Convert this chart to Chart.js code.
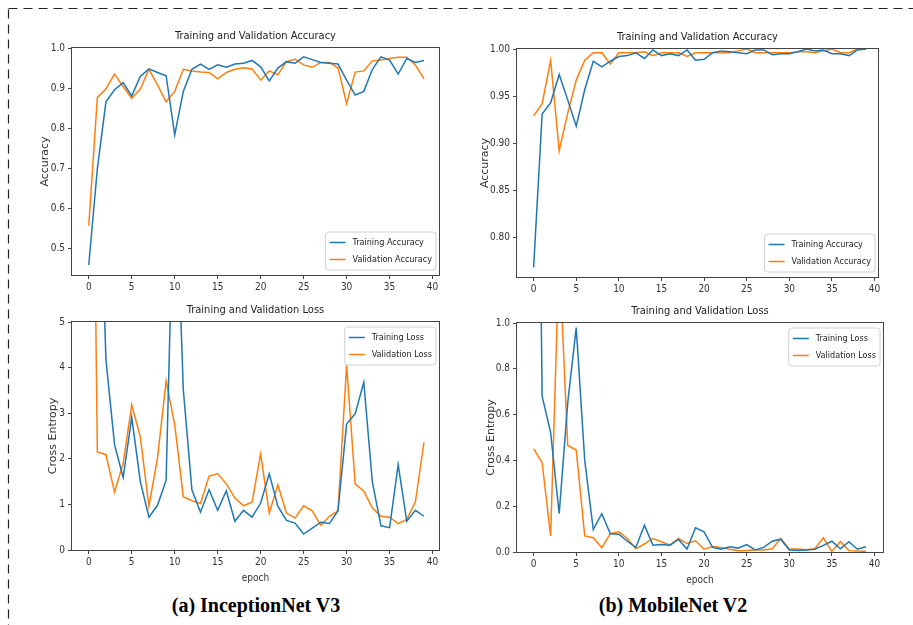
<!DOCTYPE html>
<html>
<head>
<meta charset="utf-8">
<script src="https://cdn.jsdelivr.net/npm/chart.js@4/dist/chart.umd.min.js"></script>
<style>
html,body{margin:0;padding:0;background:#fff;}
body{width:913px;height:625px;position:relative;overflow:hidden;}
canvas{position:absolute;}
svg{position:absolute;left:0;top:0;}
.cap{position:absolute;font-family:'Liberation Serif','Times New Roman',serif;font-weight:bold;font-size:20px;line-height:22px;color:#000;white-space:nowrap;transform:translateX(-50%);}
</style>
</head>
<body>
<svg width="913" height="625"><rect x="8.5" y="8.5" width="1000" height="1000" fill="none" stroke="#222" stroke-width="1.2" stroke-dasharray="9 6"/></svg>
<div class="cap" style="left:256px;top:594px">(a) InceptionNet V3</div>
<div class="cap" style="left:673px;top:594px">(b) MobileNet V2</div>
<script>
// ---------- data ----------
const epochs = [0,1,2,3,4,5,6,7,8,9,10,11,12,13,14,15,16,17,18,19,20,21,22,23,24,25,26,27,28,29,30,31,32,33,34,35,36,37,38,39];
const xTickLabels = ['0','5','10','15','20','25','30','35','40'];

// (a) InceptionNet V3
const incTrainAcc = [0.46,0.70,0.866,0.896,0.914,0.881,0.929,0.948,0.939,0.931,0.784,0.892,0.947,0.960,0.947,0.958,0.952,0.960,0.962,0.969,0.953,0.918,0.950,0.966,0.962,0.978,0.971,0.964,0.962,0.960,0.920,0.883,0.892,0.947,0.978,0.970,0.935,0.974,0.964,0.969];
const incValAcc = [0.558,0.877,0.898,0.935,0.904,0.875,0.898,0.947,0.908,0.866,0.892,0.947,0.943,0.940,0.939,0.923,0.939,0.947,0.951,0.948,0.920,0.943,0.933,0.966,0.972,0.958,0.952,0.964,0.964,0.950,0.862,0.940,0.943,0.968,0.970,0.974,0.977,0.977,0.958,0.923];
const incTrainLoss = [12.0,10.0,4.17,2.31,1.59,2.91,1.50,0.72,0.98,1.53,9.0,3.52,1.32,0.83,1.32,0.87,1.30,0.63,0.87,0.72,1.03,1.67,0.96,0.65,0.59,0.35,0.48,0.61,0.58,0.86,2.76,2.99,3.68,1.48,0.53,0.49,1.87,0.63,0.87,0.74];
const incValLoss = [18.0,2.15,2.09,1.27,1.90,3.18,2.48,0.96,2.02,3.71,2.75,1.17,1.08,1.02,1.62,1.67,1.45,1.14,0.97,1.05,2.11,0.81,1.43,0.81,0.70,0.97,0.86,0.54,0.74,0.86,4.05,1.45,1.29,0.92,0.74,0.72,0.58,0.67,1.05,2.36];

// (b) MobileNet V2
const mobTrainAcc = [0.768,0.931,0.943,0.973,0.946,0.918,0.957,0.987,0.981,0.987,0.992,0.993,0.996,0.990,0.999,0.993,0.995,0.993,0.999,0.988,0.989,0.996,0.998,0.997,0.996,0.995,0.999,0.999,0.994,0.995,0.995,0.997,1.000,0.998,0.999,0.995,0.995,0.993,0.999,1.000];
const mobValAcc = [0.929,0.942,0.988,0.892,0.932,0.967,0.988,0.996,0.996,0.984,0.996,0.996,0.996,0.997,0.993,0.996,0.996,0.996,0.992,0.996,0.996,0.996,0.996,0.996,0.998,1.000,0.996,0.996,0.996,0.996,0.996,0.997,0.997,0.996,0.998,1.000,0.996,0.996,1.000,1.000];
const mobTrainLoss = [3.9,0.68,0.52,0.167,0.65,0.98,0.40,0.098,0.167,0.080,0.078,0.047,0.020,0.117,0.030,0.033,0.030,0.055,0.013,0.106,0.088,0.020,0.012,0.023,0.017,0.032,0.009,0.020,0.047,0.056,0.009,0.007,0.009,0.012,0.029,0.047,0.014,0.045,0.012,0.023];
const mobValLoss = [0.45,0.39,0.07,1.31,0.465,0.445,0.070,0.062,0.019,0.080,0.088,0.059,0.014,0.035,0.059,0.045,0.030,0.059,0.037,0.049,0.012,0.024,0.020,0.012,0.006,0.007,0.009,0.009,0.014,0.059,0.013,0.013,0.010,0.014,0.062,0.003,0.045,0.006,0.004,0.003];

const accTicksA = ['0.5','0.6','0.7','0.8','0.9','1.0'];
const accTicksB = ['0.80','0.85','0.90','0.95','1.00'];
const lossTicksA = ['0','1','2','3','4','5'];
const lossTicksB = ['0.0','0.2','0.4','0.6','0.8','1.0'];

// ---------- drawing ----------
const BLUE = '#1f77b4', ORANGE = '#ff7f0e';
const FONT_C = "'DejaVu Sans Condensed', 'DejaVu Sans', sans-serif";
const FONT_N = "'DejaVu Sans', sans-serif";
Chart.defaults.font.family = FONT_C;

const framePlugin = {
  id: 'frame',
  afterDatasetsDraw(chart) {
    const {ctx, chartArea: a} = chart;
    ctx.save();
    ctx.strokeStyle = '#444';
    ctx.lineWidth = 1;
    ctx.strokeRect(a.left - 0.5, a.top - 0.5, a.right - a.left + 1, a.bottom - a.top + 1);
    ctx.restore();
  }
};

const legendPlugin = {
  id: 'mplLegend',
  afterDraw(chart, args, opts) {
    const {ctx, chartArea: a} = chart;
    ctx.save();
    ctx.font = '9px ' + FONT_C;
    const items = chart.data.datasets.map(d => ({text: d.label, color: d.borderColor}));
    const tw = Math.max(...items.map(i => ctx.measureText(i.text).width));
    const w = 4 + 16 + 7 + tw + 4, h = 38;
    const x = a.right - 3 - w;
    const y = opts.loc === 'upper right' ? a.top + 5 : a.bottom - 5 - h;
    ctx.beginPath();
    if (ctx.roundRect) ctx.roundRect(x, y, w, h, 3); else ctx.rect(x, y, w, h);
    ctx.fillStyle = 'rgba(255,255,255,0.85)';
    ctx.fill();
    ctx.strokeStyle = '#d0d0d0';
    ctx.lineWidth = 1;
    ctx.stroke();
    items.forEach((it, i) => {
      const cy = y + 10.5 + i * 17;
      ctx.beginPath();
      ctx.moveTo(x + 4, cy);
      ctx.lineTo(x + 20, cy);
      ctx.strokeStyle = it.color;
      ctx.lineWidth = 1.5;
      ctx.stroke();
      ctx.fillStyle = '#222';
      ctx.textBaseline = 'middle';
      ctx.textAlign = 'left';
      ctx.fillText(it.text, x + 27, cy);
    });
    ctx.restore();
  }
};

function series(vals) { return epochs.map((e, i) => ({x: e, y: vals[i]})); }

function makePanel(s) {
  const cv = document.createElement('canvas');
  cv.width = s.box[2]; cv.height = s.box[3];
  cv.style.left = s.box[0] + 'px'; cv.style.top = s.box[1] + 'px';
  cv.style.width = s.box[2] + 'px'; cv.style.height = s.box[3] + 'px';
  document.body.appendChild(cv);
  const tickGrid = {display: true, drawOnChartArea: false, drawTicks: true, tickLength: 4, color: '#444', lineWidth: 1};
  new Chart(cv.getContext('2d'), {
    type: 'line',
    data: {
      datasets: [
        {label: s.names[0], data: series(s.train), borderColor: BLUE, backgroundColor: BLUE, borderWidth: 1.5, pointRadius: 0, tension: 0, fill: false, clip: 0},
        {label: s.names[1], data: series(s.val), borderColor: ORANGE, backgroundColor: ORANGE, borderWidth: 1.5, pointRadius: 0, tension: 0, fill: false, clip: 0}
      ]
    },
    options: {
      responsive: false, animation: false, devicePixelRatio: 1, events: [],
      layout: {padding: {top: s.padTop, right: s.padRight, left: 0, bottom: 0}},
      plugins: {
        legend: {display: false},
        tooltip: {enabled: false},
        title: {display: true, text: s.title, fullSize: false, align: 'center', color: '#222',
                font: {family: FONT_C, size: 11, weight: 'normal', lineHeight: '14px'}, padding: {top: 0, bottom: 5}},
        mplLegend: {loc: s.legendLoc}
      },
      scales: {
        x: {
          type: 'linear', min: s.xr[0], max: s.xr[1],
          afterBuildTicks: ax => { ax.ticks = xTickLabels.map(v => ({value: Number(v)})); },
          afterFit: ax => { ax.height = s.xAxisH; },
          ticks: {callback: (v, i) => xTickLabels[i], autoSkip: false, maxRotation: 0, padding: 2, color: '#333', font: {size: 10}},
          grid: tickGrid, border: {display: false},
          title: s.xTitle ? {display: true, text: s.xTitle, color: '#333', font: {family: FONT_C, size: 10, lineHeight: '13px'}, padding: {top: 0, bottom: s.xTitlePad}} : {display: false}
        },
        y: {
          type: 'linear', min: s.yr[0], max: s.yr[1],
          afterBuildTicks: ax => { ax.ticks = s.yTicks.map(v => ({value: Number(v)})); },
          afterFit: ax => { ax.width = s.yAxisW; },
          ticks: {callback: (v, i) => s.yTicks[i], autoSkip: false, padding: 3, color: '#333', font: {size: 10}},
          grid: tickGrid, border: {display: false},
          title: {display: true, text: s.yTitle, color: '#333', font: {family: FONT_N, size: 11, lineHeight: '13px'}, padding: {top: s.yTitlePad, bottom: 0}}
        }
      }
    },
    plugins: [framePlugin, legendPlugin]
  });
}

makePanel({box: [30, 20, 430, 280], padTop: 9, padRight: 21, xAxisH: 25, yAxisW: 42, yTitlePad: 8.5,
  xr: [-1.95, 40.75], yr: [0.435, 1.0], yTicks: accTicksA,
  title: 'Training and Validation Accuracy', yTitle: 'Accuracy', xTitle: null,
  names: ['Training Accuracy', 'Validation Accuracy'], train: incTrainAcc, val: incValAcc, legendLoc: 'lower right'});

makePanel({box: [470, 20, 430, 280], padTop: 10, padRight: 22, xAxisH: 23, yAxisW: 47, yTitlePad: 8.5,
  xr: [-1.95, 40.4], yr: [0.758, 1.0], yTicks: accTicksB,
  title: 'Training and Validation Accuracy', yTitle: 'Accuracy', xTitle: null,
  names: ['Training Accuracy', 'Validation Accuracy'], train: mobTrainAcc, val: mobValAcc, legendLoc: 'lower right'});

makePanel({box: [30, 295, 430, 300], padTop: 8, padRight: 21, xAxisH: 45, yAxisW: 42, yTitlePad: 16.5,
  xr: [-1.95, 40.75], yr: [0, 5], yTicks: lossTicksA,
  title: 'Training and Validation Loss', yTitle: 'Cross Entropy', xTitle: 'epoch', xTitlePad: 10.5,
  names: ['Training Loss', 'Validation Loss'], train: incTrainLoss, val: incValLoss, legendLoc: 'upper right'});

makePanel({box: [470, 295, 435, 300], padTop: 9, padRight: 22, xAxisH: 43, yAxisW: 47, yTitlePad: 14.5,
  xr: [-1.95, 41.0], yr: [0, 1], yTicks: lossTicksB,
  title: 'Training and Validation Loss', yTitle: 'Cross Entropy', xTitle: 'epoch', xTitlePad: 8.5,
  names: ['Training Loss', 'Validation Loss'], train: mobTrainLoss, val: mobValLoss, legendLoc: 'upper right'});
</script>
</body>
</html>
